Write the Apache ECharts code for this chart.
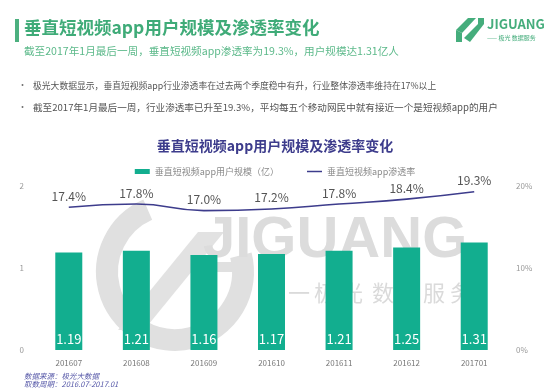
<!DOCTYPE html>
<html>
<head>
<meta charset="utf-8">
<script src="https://cdn.jsdelivr.net/npm/echarts@6/dist/echarts.min.js"></script>
<style>
html,body{margin:0;padding:0;background:#fff;}
#c{width:550px;height:391px;}
</style>
</head>
<body>
<div id="c"></div>
<script>
var categories = ['201607','201608','201609','201610','201611','201612','201701'];
var userScale = [1.19, 1.21, 1.16, 1.17, 1.21, 1.25, 1.31];
var penetration = [17.4, 17.8, 17.0, 17.2, 17.8, 18.4, 19.3];
var leftTicks = [0, 1, 2];
var rightTicks = ['0%', '10%', '20%'];
var seriesNames = ['垂直短视频app用户规模（亿）', '垂直短视频app渗透率'];

var FONT = '"Noto Sans CJK SC", "Noto Sans", sans-serif';
var chart = echarts.init(document.getElementById('c'), null, {renderer: 'canvas'});

var wmChars = ['一','极','光','数','据','服','务'];
var wmX = [288, 314, 341, 372, 398, 423, 450];
var watermark = wmChars.map(function(ch, i){
  return {type: 'text', z: -1, left: wmX[i], top: 282, style: {text: ch, font: '22px ' + FONT, fill: '#dadada'}};
});

var option = {
  backgroundColor: '#fff',
  textStyle: {fontFamily: FONT},
  title: {
    text: '垂直短视频app用户规模及渗透率变化',
    left: 'center', top: 134,
    textStyle: {fontSize: 14, fontWeight: 'bold', color: '#3d3c8c', fontFamily: FONT}
  },
  legend: {
    top: 162, left: 'center',
    itemGap: 28, itemWidth: 15, itemHeight: 5,
    textStyle: {fontSize: 9, color: '#8a8a8a', fontFamily: FONT},
    data: [
      {name: seriesNames[0], icon: 'rect'},
      {name: seriesNames[1], icon: 'path://M0,0L10,0L10,1L0,1Z', itemStyle: {color: '#3d3c8c'}}
    ]
  },
  grid: {left: 35, right: 42, top: 186, bottom: 41},
  xAxis: {
    type: 'category', data: categories,
    axisLine: {show: false}, axisTick: {show: false},
    axisLabel: {fontSize: 8, color: '#777', margin: 9, fontFamily: FONT}
  },
  yAxis: [
    {type: 'value', min: 0, max: 2, interval: 1,
     splitLine: {show: false}, axisLine: {show: false}, axisTick: {show: false},
     axisLabel: {fontSize: 8, color: '#999', margin: 11, fontFamily: FONT}},
    {type: 'value', min: 0, max: 20, interval: 10,
     splitLine: {show: false}, axisLine: {show: false}, axisTick: {show: false},
     axisLabel: {fontSize: 8, color: '#999', margin: 8, fontFamily: FONT,
       formatter: function(v){ return rightTicks[Math.round(v/10)]; }}}
  ],
  series: [
    {
      name: seriesNames[0], type: 'bar', data: userScale, barWidth: 27,
      itemStyle: {color: '#12ae8f'}, z: 3,
      label: {show: true, position: 'insideBottom', distance: 4, color: '#fff',
        fontSize: 13, fontFamily: FONT, formatter: function(p){ return p.value.toFixed(2); }}
    },
    {
      name: seriesNames[1], type: 'line', yAxisIndex: 1, data: penetration,
      smooth: true, symbol: 'circle', symbolSize: 0.1, showSymbol: true,
      lineStyle: {color: '#3d3c8c', width: 1.6},
      itemStyle: {color: '#3d3c8c'}, z: 4,
      label: {show: true, position: 'top', distance: 5, color: '#555',
        fontSize: 12, fontFamily: FONT, formatter: function(p){ return p.value.toFixed(1) + '%'; }}
    }
  ],
  graphic: [
    // watermark
    {type: 'arc', z: -1, shape: {cx: 175, cy: 272, r: 68, startAngle: -0.25, endAngle: 4.3}, style: {stroke: '#e0e0e0', lineWidth: 22, fill: null}},
    {type: 'polygon', z: -1, shape: {points: [[118,330],[198,232],[224,232],[144,330]]}, style: {fill: '#e2e2e2'}},
    {type: 'rect', z: -1, left: 210, top: 262, shape: {width: 40, height: 10}, style: {fill: '#e0e0e0'}},
    {type: 'text', z: -1, left: 203, top: 212, style: {text: 'JIGUANG', font: 'bold 58px "Liberation Sans", Arial, sans-serif', fill: '#dcdcdc'}}
  ].concat(watermark).concat([
    // header bar
    {type: 'rect', left: 15, top: 19, shape: {width: 4, height: 23}, style: {fill: '#4cb07f'}},
    {type: 'text', left: 24, top: 19, style: {text: '垂直短视频app用户规模及渗透率变化', font: 'bold 17.5px ' + FONT, fill: '#3fab78'}},
    {type: 'text', left: 24, top: 46, style: {text: '截至2017年1月最后一周，垂直短视频app渗透率为19.3%，用户规模达1.31亿人', font: '10.6px ' + FONT, fill: '#5cb98a'}},
    {type: 'text', left: 18, top: 80, style: {text: '•', font: '9px ' + FONT, fill: '#777'}},
    {type: 'text', left: 33, top: 81, style: {text: '极光大数据显示，垂直短视频app行业渗透率在过去两个季度稳中有升，行业整体渗透率维持在17%以上', font: '8.8px ' + FONT, fill: '#555'}},
    {type: 'text', left: 18, top: 102, style: {text: '•', font: '9px ' + FONT, fill: '#777'}},
    {type: 'text', left: 33, top: 103, style: {text: '截至2017年1月最后一周，行业渗透率已升至19.3%，平均每五个移动网民中就有接近一个是短视频app的用户', font: '9.6px ' + FONT, fill: '#555'}},
    // header logo
    {type: 'polygon', shape: {points: [[456,30],[468,18],[476,18],[462,33]]}, style: {fill: '#45ad7c'}},
    {type: 'polygon', shape: {points: [[464,38],[478,24],[484,24],[470,42]]}, style: {fill: '#45ad7c'}},
    {type: 'polygon', shape: {points: [[456,30],[462,33],[462,42],[456,42]]}, style: {fill: '#45ad7c'}},
    {type: 'polygon', shape: {points: [[478,24],[484,24],[484,18],[478,18]]}, style: {fill: '#45ad7c'}},
    {type: 'text', left: 487, top: 18, style: {text: 'JIGUANG', font: 'bold 13px ' + FONT, fill: '#45ad7c'}},
    {type: 'text', left: 487, top: 35, style: {text: '—— 极光 数据服务', font: '6px ' + FONT, fill: '#45ad7c'}},
    // source
    {type: 'text', left: 24, top: 372, style: {text: '数据来源：极光大数据', font: 'italic 7.5px ' + FONT, fill: '#5658a8'}},
    {type: 'text', left: 24, top: 380, style: {text: '取数周期：2016.07-2017.01', font: 'italic 7.5px ' + FONT, fill: '#5658a8'}}
  ])
};
chart.setOption(option);
</script>
</body>
</html>
